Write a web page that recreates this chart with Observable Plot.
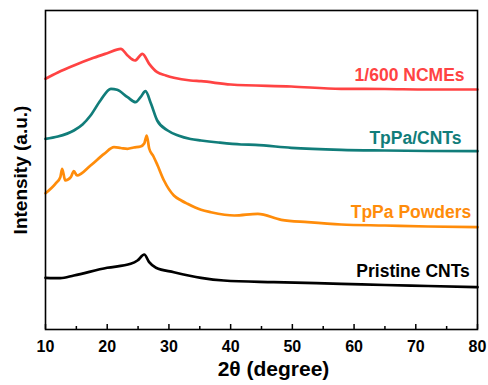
<!DOCTYPE html>
<html>
<head>
<meta charset="utf-8">
<script src="https://cdn.jsdelivr.net/npm/d3@7"></script>
<script src="https://cdn.jsdelivr.net/npm/@observablehq/plot@0.6"></script>
<style>
  html, body { margin: 0; padding: 0; background: #fff; }
  #chart { width: 488px; height: 385px; }
  svg { font-family: "Liberation Sans", Arial, sans-serif; }
</style>
</head>
<body>
<div id="chart"></div>
<script>
// ---- data (2θ in degrees, intensity in arbitrary units) ----
const seriesNames = ["1/600 NCMEs", "TpPa/CNTs", "TpPa Powders", "Pristine CNTs"];
const seriesColors = ["#ff4343", "#117d7a", "#ff8c0a", "#000000"];

const ncmeTheta = [10, 12, 14.6, 17.8, 20, 22.2, 23.3, 24.5, 25.7, 26.8, 28.1, 29.5, 30.8, 33.5, 35.2, 40, 49.8, 57.9, 65, 72, 80];
const ncmeInt   = [250.7, 257, 264, 271.7, 276.3, 280.7, 274, 269, 275.7, 265.7, 257.3, 254, 251.7, 249, 248.3, 245, 243, 240.7, 240.5, 240, 240];

const tpcTheta = [10, 12, 14.6, 16, 17.3, 18.9, 20.6, 21.6, 23.3, 24.6, 25.4, 26.2, 27.1, 28.1, 29.8, 31.5, 33.5, 35.2, 38, 41.7, 44, 49.8, 57.9, 65, 72, 80];
const tpcInt   = [190.7, 193, 199, 205, 214, 229, 240.7, 239.7, 232.3, 227.3, 232.3, 238.3, 225.7, 209, 199, 194, 190.5, 189, 187, 185, 184.6, 181.7, 179.7, 179, 178.5, 178.3];

const powTheta = [10, 11.6, 12.4, 12.7, 13.2, 14.1, 14.6, 15.1, 17.3, 19.5, 21.1, 22.2, 23.3, 24.3, 25.4, 26.0, 26.4, 26.8, 27.5, 28.1, 29.2, 30.8, 32.0, 33.0, 35.2, 36.8, 40.6, 44.4, 48.2, 52.5, 57.9, 65, 72, 80];
const powInt   = [136.3, 145.7, 152.3, 160.7, 149, 152.3, 158.3, 154, 164, 175.7, 182.3, 181.5, 180.7, 182, 183, 186, 194, 181, 173, 165, 149, 134, 129, 125.7, 119.7, 117.3, 114, 115.7, 109.7, 107.3, 105, 104, 103, 102.3];

const cntTheta = [10, 12.4, 14.6, 20, 23.8, 24.9, 26.0, 26.8, 27.9, 30.8, 35.2, 38.9, 47, 57.9, 65, 72, 80];
const cntInt   = [51.7, 51.3, 54, 61.7, 65.7, 69, 75, 67.3, 61.7, 57.3, 51.7, 49, 47.3, 45.7, 44.5, 43.5, 42.3];

const labelTheta = [77.9, 77.4, 79.0, 78.75];
const labelInt   = [254, 190.7, 117.3, 58.3];

const majorTicks = [10, 20, 30, 40, 50, 60, 70, 80];
const minorTicks = [15, 25, 35, 45, 55, 65, 75];

const xLabel = "2θ (degree)";
const yLabel = "Intensity (a.u.)";

// ---- build tidy table ----
const thetas = [ncmeTheta, tpcTheta, powTheta, cntTheta];
const ints = [ncmeInt, tpcInt, powInt, cntInt];
const rows = [];
seriesNames.forEach((name, i) => {
  thetas[i].forEach((t, j) => rows.push({series: name, theta: t, intensity: ints[i][j]}));
});
const labels = seriesNames.map((name, i) => ({series: name, theta: labelTheta[i], intensity: labelInt[i]}));

const chart = Plot.plot({
  width: 488,
  height: 385,
  marginLeft: 45,
  marginRight: 11,
  marginTop: 10,
  marginBottom: 56,
  x: {domain: [10, 80]},
  y: {domain: [0, 319], axis: null},
  color: {domain: seriesNames, range: seriesColors},
  marks: [
    Plot.line(rows, {x: "theta", y: "intensity", z: "series", stroke: "series", strokeWidth: 2.7, curve: "monotone-x"}),
    Plot.text(labels, {x: "theta", y: "intensity", text: "series", fill: "series", textAnchor: "end", fontSize: 17.5, fontWeight: "bold"}),
    Plot.ruleX(majorTicks, {x: d => d, insetTop: 314, stroke: "black", strokeWidth: 1.5}),
    Plot.ruleX(minorTicks, {x: d => d, insetTop: 316, stroke: "black", strokeWidth: 1.5}),
    Plot.axisX(majorTicks, {tickSize: 0, tickPadding: 11, fontSize: 16, fontWeight: "bold", fill: "black", label: null}),
    Plot.text([xLabel], {frameAnchor: "bottom", lineAnchor: "middle", textAnchor: "middle", dy: 40, dx: 12, fontSize: 21, fontWeight: "bold", fill: "black"}),
    Plot.text([yLabel], {frameAnchor: "left", lineAnchor: "middle", textAnchor: "middle", rotate: -90, dx: -25, fontSize: 19, fontWeight: "bold", fill: "black"}),
    Plot.frame({stroke: "black", strokeWidth: 1.6})
  ]
});
document.getElementById("chart").appendChild(chart);
</script>
</body>
</html>
